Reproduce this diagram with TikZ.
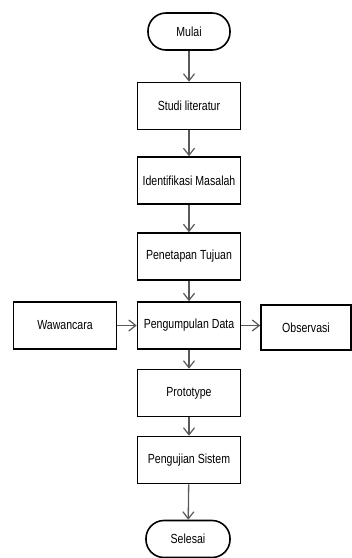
\documentclass[tikz,border=0pt]{standalone}
\usepackage{fontspec}
\setmainfont{Liberation Sans}[FakeStretch=0.8]
\usetikzlibrary{arrows.meta}
\begin{document}
\begin{tikzpicture}[x=1pt,y=-1pt,
  box/.style={draw=black,line width=1.6pt,fill=white,minimum width=103pt,minimum height=47pt,inner sep=0pt,font=\fontsize{13.2}{15}\selectfont},
  term/.style={draw=black,line width=1.6pt,fill=white,rounded corners=18pt,minimum width=82pt,minimum height=37pt,inner sep=0pt,font=\fontsize{13.2}{15}\selectfont},
  flow/.style={draw=black!65,line width=1.3pt,-{Straight Barb[length=7pt,width=11pt,line width=1.2pt]}}]
\useasboundingbox (0,0) rectangle (352,558);
\node[term] (mulai) at (189,31.5) {Mulai};
\node[box] (studi) at (189,106) {Studi literatur};
\node[box] (ident) at (189,180.5) {Identifikasi Masalah};
\node[box] (tujuan) at (189,256.5) {Penetapan Tujuan};
\node[box] (data) at (189,325.5) {Pengumpulan Data};
\node[box] (waw) at (65,325.5) {Wawancara};
\node[box,minimum width=90pt,minimum height=45pt] (obs) at (306,327.5) {Observasi};
\node[box] (proto) at (189,393) {Prototype};
\node[box] (uji) at (189,460) {Pengujian Sistem};
\node[term,minimum width=84pt] (selesai) at (188,539) {Selesai};
\draw[flow] (mulai) -- (studi);
\draw[flow] (studi) -- (ident);
\draw[flow] (ident) -- (tujuan);
\draw[flow] (tujuan) -- (data);
\draw[flow] (data) -- (proto);
\draw[flow] (proto) -- (uji);
\draw[flow] (uji) -- (selesai);
\draw[flow] (waw) -- (data);
\draw[flow] (data.east) -- (obs.west |- data.east);
\end{tikzpicture}
\end{document}
